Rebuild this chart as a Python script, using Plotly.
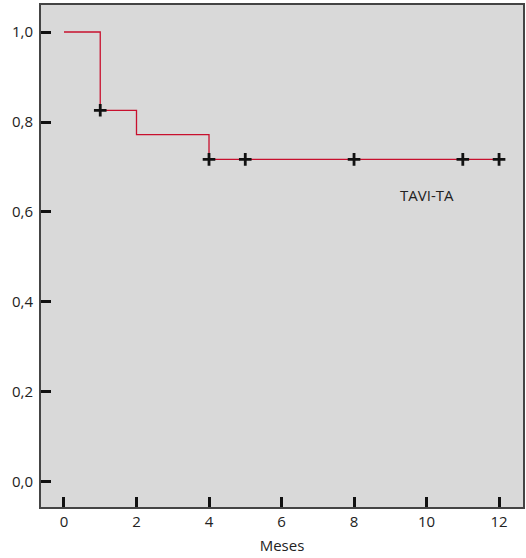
import plotly.graph_objects as go

# Kaplan-Meier step data
step_x = [0, 1, 2, 4, 12]
step_y = [1.0, 0.826, 0.772, 0.717, 0.717]

# Censored observations
cens_x = [1, 4, 5, 8, 11, 12]
cens_y = [0.826, 0.717, 0.717, 0.717, 0.717, 0.717]

x_ticks = [0, 2, 4, 6, 8, 10, 12]
y_ticks = [0.0, 0.2, 0.4, 0.6, 0.8, 1.0]

font_family = "Open Sans, Noto Sans, sans-serif"

fig = go.Figure()
fig.add_trace(go.Scatter(
    x=step_x, y=step_y, mode="lines", line=dict(shape="hv", color="#c8102e", width=1.3),
    hoverinfo="skip", showlegend=False))
fig.add_trace(go.Scatter(
    x=cens_x, y=cens_y, mode="markers",
    marker=dict(symbol="cross-thin", size=9, line=dict(color="#111111", width=2.8)),
    showlegend=False))

fig.add_annotation(x=10.0, y=0.638, text="TAVI-TA", showarrow=False,
                   font=dict(family=font_family, size=15, color="#222222"))

fig.update_layout(
    width=526, height=558,
    margin=dict(l=41, r=3, t=5, b=51),
    paper_bgcolor="white", plot_bgcolor="#d9d9d9",
    separators=",.",
    font=dict(family=font_family, size=15, color="#222222"),
    xaxis=dict(range=[-0.634, 12.66], tickvals=x_ticks, ticks="inside", ticklen=10,
               tickwidth=2.5, tickcolor="#111111", showgrid=False, zeroline=False,
               showline=True, mirror=True, linecolor="#444444", linewidth=2,
               automargin=False, ticklabelstandoff=0,
               title=dict(text="Meses", standoff=10, font=dict(size=15))),
    yaxis=dict(range=[-0.0556, 1.06], tickvals=y_ticks, tickformat=".1f", ticks="inside",
               ticklen=10, tickwidth=2.5, tickcolor="#111111", showgrid=False,
               automargin=False, ticklabelstandoff=3,
               zeroline=False, showline=True, mirror=True, linecolor="#444444", linewidth=2),
)

fig.write_html("out.html", config={"displayModeBar": False},
               post_script="document.body.style.margin='0';")
